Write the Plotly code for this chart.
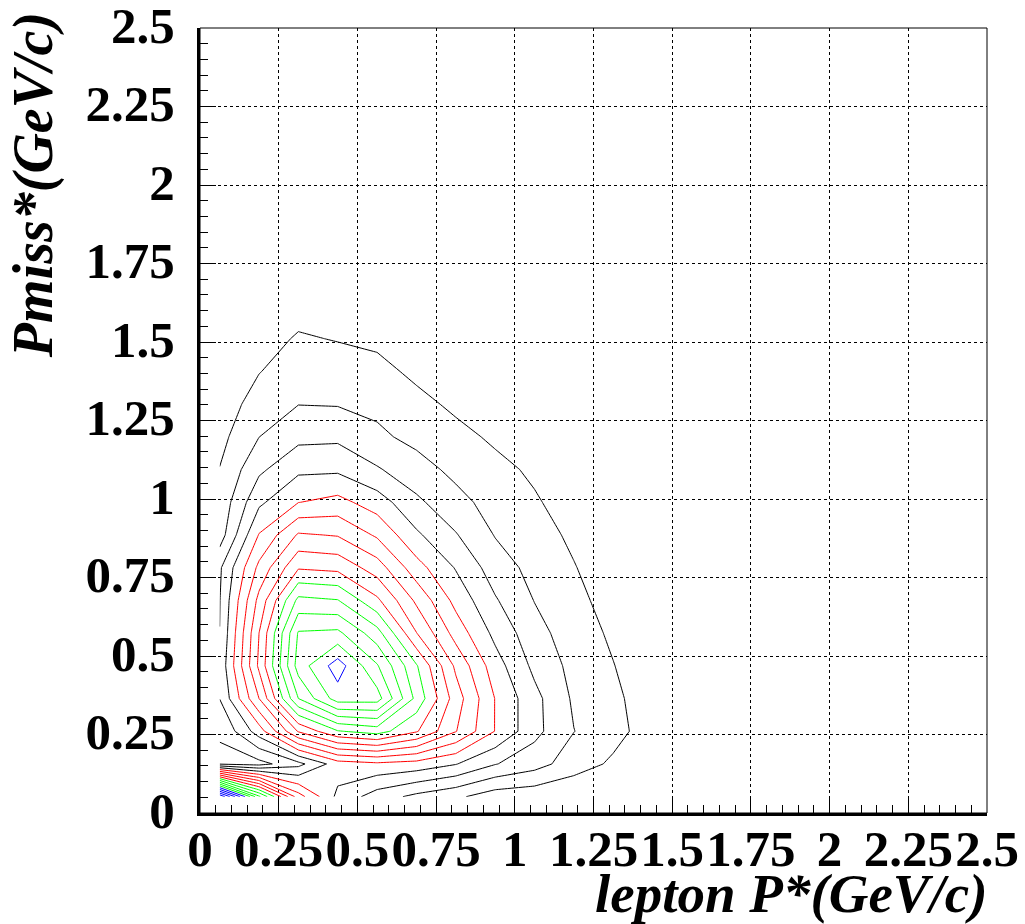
import plotly.graph_objects as go

# Binning of the 2D histogram: 20 bins in lepton P*, 24 bins in Pmiss*, both over 0-2.5 GeV/c
n_x_bins = 20
n_y_bins = 24
x_centers = [(i + 0.5) * 2.5 / n_x_bins for i in range(n_x_bins)]
y_centers = [(j + 0.5) * 2.5 / n_y_bins for j in range(n_y_bins)]

# Bin contents per lepton-P* column (bottom Pmiss* bin first); unlisted bins are empty
col_0 = [20, 1.9, 2.05, 3.02, 3.25, 3.01, 2.96, 2.85, 1.5, 1.3, 1.03, 0.7, 0.4, 0.2, 0.1, 0, 0]
col_1 = [12.2, 1.65, 4.5, 7.0, 8.2, 8.0, 7.3, 6.25, 5.06, 3.8, 2.8, 1.99, 1.47, 0.96, 0.6, 0.3, 0]
col_2 = [6.45, 2.69, 8.1, 12.0, 13.45, 13.1, 11.27, 8.9, 7.12, 4.98, 3.8, 2.73, 1.98, 1.54, 1.1, 0.64, 0.2]
col_3 = [3.75, 4.52, 9.93, 14.5, 15.5, 13.23, 11.05, 8.73, 6.93, 5.32, 3.83, 2.79, 1.94, 1.46, 0.95, 0.5, 0.15]
col_4 = [2.5, 4.8, 10.45, 14.45, 13.1, 11.41, 9.2, 7.5, 5.85, 4.5, 3.1, 2.2, 1.76, 1.28, 0.8, 0.4, 0.1]
col_5 = [1.74, 4.6, 9.1, 10.7, 10.1, 8.03, 6.8, 5.4, 4.17, 3.2, 2.41, 1.72, 1.27, 0.8, 0.5, 0.2, 0]
col_6 = [1.2, 4.05, 7.05, 7.5, 6.8, 5.6, 4.69, 3.93, 3.07, 2.33, 1.74, 1.27, 0.82, 0.55, 0.3, 0.1, 0]
col_7 = [0.45, 3.05, 4.97, 4.97, 4.45, 3.73, 3.1, 2.5, 1.95, 1.6, 1.25, 0.85, 0.55, 0.35, 0.15, 0, 0]
col_8 = [0.33, 2.4, 3.3, 3.3, 2.75, 2.38, 1.97, 1.68, 1.39, 1.1, 0.85, 0.6, 0.35, 0.15, 0, 0, 0]
col_9 = [0.1, 1.5, 2.02, 1.85, 1.7, 1.45, 1.25, 1.05, 0.82, 0.6, 0.4, 0.2, 0.05, 0, 0, 0, 0]
col_10 = [0, 0.83, 1.35, 1.2, 1.03, 0.85, 0.65, 0.45, 0.3, 0.15, 0.05, 0, 0, 0, 0, 0, 0]
col_11 = [0, 0.3, 0.5, 0.5, 0.4, 0.3, 0.2, 0.1, 0.05, 0, 0, 0, 0, 0, 0, 0, 0]
columns = [col_0, col_1, col_2, col_3, col_4, col_5, col_6, col_7, col_8, col_9, col_10, col_11]

# Contour levels: 19 equidistant levels between 0 and the histogram maximum
level_start = 1
level_end = 19
level_step = 1

tick_vals = [0, 0.25, 0.5, 0.75, 1, 1.25, 1.5, 1.75, 2, 2.25, 2.5]
tick_text = ["0", "0.25", "0.5", "0.75", "1", "1.25", "1.5", "1.75", "2", "2.25", "2.5"]

# Assemble the z matrix (rows = Pmiss* bins, columns = lepton P* bins)
z = [[0.0] * n_x_bins for _ in range(n_y_bins)]
for i, col in enumerate(columns):
    for j, v in enumerate(col):
        z[j][i] = v

# Palette: black / red / green / blue, five levels each
palette = [
    [0.0, "#000000"], [0.19, "#000000"],
    [0.20, "#ff0000"], [0.46, "#ff0000"],
    [0.48, "#00ff00"], [0.74, "#00ff00"],
    [0.76, "#0000ff"], [1.0, "#0000ff"],
]

fig = go.Figure()
fig.add_trace(go.Contour(
    x=x_centers, y=y_centers, z=z,
    contours=dict(start=level_start, end=level_end, size=level_step, coloring="lines"),
    colorscale=palette, showscale=False,
    line=dict(width=1, smoothing=0),
    hoverinfo="skip",
))

tick_font = dict(family="Liberation Serif", size=51, color="black", weight="bold")
axis_common = dict(
    range=[0, 2.5], tickmode="array", tickvals=tick_vals, ticktext=tick_text,
    ticks="inside", ticklen=16, tickwidth=1, tickcolor="black",
    minor=dict(dtick=0.05, ticks="inside", ticklen=8, tickwidth=1, tickcolor="black", showgrid=False),
    showgrid=True, gridcolor="black", gridwidth=1, griddash="dot",
    showline=True, linewidth=3, linecolor="black", mirror=False,
    zeroline=False, tickfont=tick_font, tickangle=0, fixedrange=True,
    automargin=False,
)
fig.update_xaxes(**axis_common, ticklabelstandoff=-11)
fig.update_yaxes(**axis_common, ticklabelstandoff=12, ticklabelshift=-3)

# Thin frame around the pad
fig.add_shape(type="rect", xref="paper", yref="paper", x0=0, y0=0, x1=1, y1=1,
              line=dict(color="black", width=1), layer="above")

title_font = dict(family="Liberation Serif", size=55, color="black", weight="bold", style="italic")
fig.add_annotation(text="lepton P*(GeV/c)", xref="paper", yref="paper",
                   x=1.004, y=-0.102, xanchor="right", yanchor="middle",
                   showarrow=False, font=title_font)
fig.add_annotation(text="Pmiss*(GeV/c)", xref="paper", yref="paper",
                   x=-0.212, y=1.0229, xanchor="center", yanchor="top", textangle=-90,
                   showarrow=False, font=dict(title_font, size=56))

fig.update_layout(
    width=1025, height=924,
    margin=dict(l=200, r=38, t=28, b=111, autoexpand=False),
    paper_bgcolor="white", plot_bgcolor="white",
    showlegend=False,
)

fig.write_html("out.html")
